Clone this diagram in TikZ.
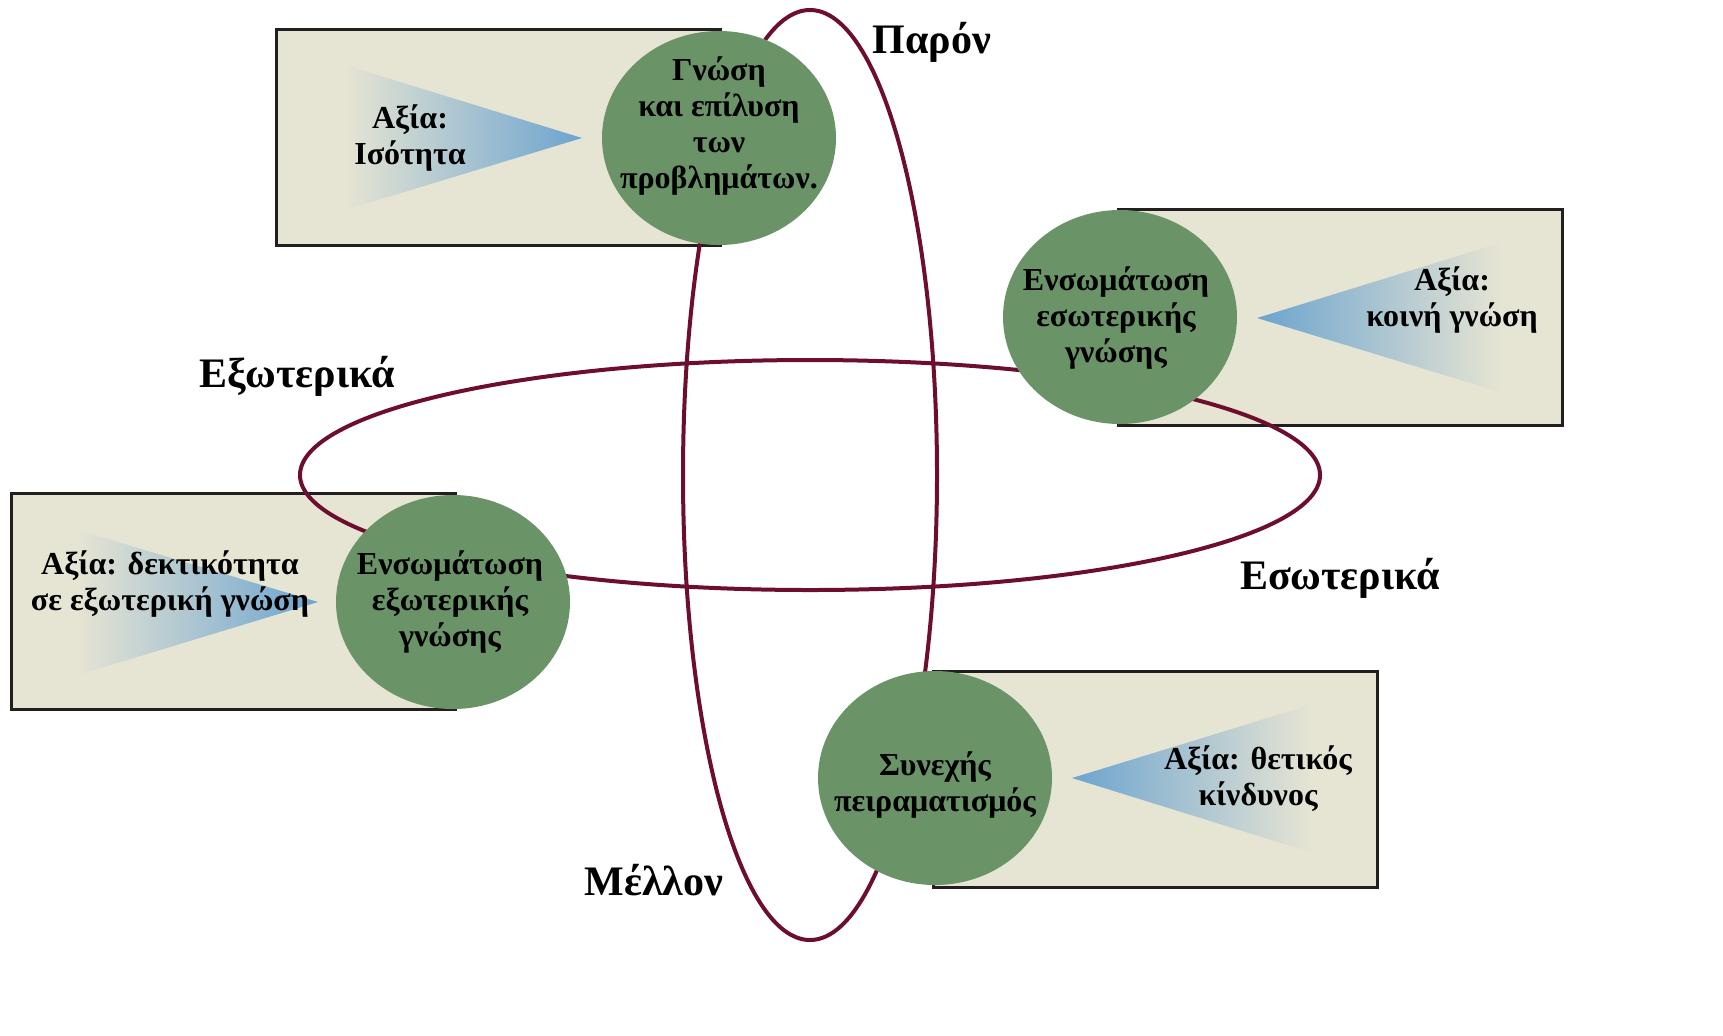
\documentclass[tikz,border=0pt]{standalone}
\usepackage{fontspec}
\setmainfont{Liberation Serif}
\usetikzlibrary{shapes.geometric}
\definecolor{paper}{RGB}{230,228,211}
\definecolor{leaf}{RGB}{106,148,103}
\definecolor{wine}{RGB}{110,14,46}
\definecolor{sky}{RGB}{108,164,207}
\definecolor{ink}{RGB}{35,31,32}
\newcommand\vb{\bfseries\fontsize{16}{18}\selectfont}
\begin{document}
\begin{tikzpicture} [x=0.5pt, y=-0.5pt,
frame/.style={rectangle, draw=ink, line width=1.5pt, fill=paper, minimum width=222pt, minimum height=108pt, inner sep=0pt},
disc/.style={ellipse, fill=leaf, minimum width=117pt, minimum height=107pt, inner sep=0pt},
val/.style={align=center, font=\vb},
ring/.style={draw=wine, line width=2pt},
axis/.style={font=\bfseries\fontsize{21}{24}\selectfont}]
\useasboundingbox (0,0) rectangle (1723,1035);
\node[frame] (b1) at (498,137) {};
\node[frame] (b2) at (1340,317) {};
\node[frame] (b3) at (233,601) {};
\node[frame] (b4) at (1155,779) {};
\shade[left color=paper, right color=sky] (345,65) -- (582,138) -- (345,210) -- cycle;
\shade[left color=sky, right color=paper] (1257,318) -- (1500,243) -- (1500,392) -- cycle;
\shade[left color=paper, right color=sky] (78,530) -- (318,602) -- (78,675) -- cycle;
\shade[left color=sky, right color=paper] (1072,778) -- (1310,705) -- (1310,852) -- cycle;
\draw[ring] (810,475) ellipse [x radius=127, y radius=465];
\draw[ring] (810,475) ellipse [x radius=510, y radius=115];
\node[disc] (c1) at (719,138) {};
\node[disc] (c2) at (1120,317) {};
\node[disc] (c3) at (453,602) {};
\node[disc] (c4) at (935,778) {};
\node[val] (t1) at (719,126) {Γνώση\\και επίλυση\\των\\προβλημάτων.};
\node[val] (t2) at (1116,318) {Ενσωμάτωση\\εσωτερικής\\γνώσης};
\node[val] (t3) at (450,602) {Ενσωμάτωση\\εξωτερικής\\γνώσης};
\node[val] (t4) at (935,785) {Συνεχής\\πειραματισμός};
\node[val] (v1) at (410,138) {Αξία:\\Ισότητα};
\node[val] (v2) at (1452,300) {Αξία:\\κοινή γνώση};
\node[val] (v3) at (170,584) {Αξία: δεκτικότητα\\σε εξωτερική γνώση};
\node[val] (v4) at (1258,779) {Αξία: θετικός\\κίνδυνος};
\node[axis] (now) at (932,42) {Παρόν};
\node[axis] (ext) at (297,376) {Εξωτερικά};
\node[axis] (int) at (1340,578) {Εσωτερικά};
\node[axis] (fut) at (654,880) {Μέλλον};
\end{tikzpicture}
\end{document}
